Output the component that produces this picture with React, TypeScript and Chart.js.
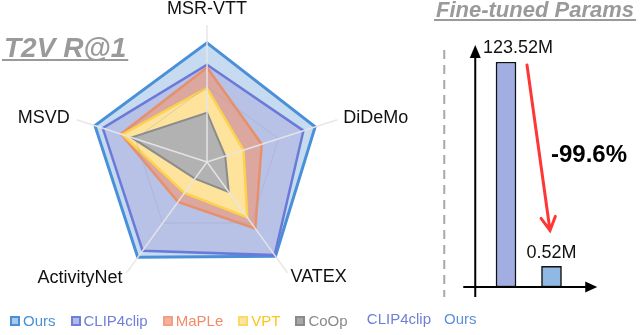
import React, { useEffect, useRef } from 'react';
import { Chart, registerables } from 'chart.js';

Chart.register(...registerables);

const FONT = '"Liberation Sans", Arial, Helvetica, sans-serif';

// ---- Radar: T2V R@1 (normalised per benchmark, 0-100) ----
const axisLabels = ['MSR-VTT', 'DiDeMo', 'VATEX', 'ActivityNet', 'MSVD'];
const seriesNames = ['Ours', 'CLIP4clip', 'MaPLe', 'VPT', 'CoOp'];
const oursValues = [87, 83, 85, 86, 86];
const clip4clipValues = [71, 74, 84, 80, 80];
const mapleValues = [69, 42, 60, 36, 66];
const vptValues = [54, 28, 50, 28, 65];
const coopValues = [36, 14, 27, 15, 58];
const radarMax = 100;
const radarGridValue = 55;

// ---- Bars: fine-tuned parameters (millions) ----
const paramCategories = ['CLIP4clip', 'Ours'];
const paramValues = [123.52, 0.52];
const paramUnit = 'M';
const paramAxisMin = 0.323;

// ---- styles ----
const seriesValues = [oursValues, clip4clipValues, mapleValues, vptValues, coopValues];
const lineColors = ['#4a90d9', '#6a7ad8', '#e8906c', '#fdd24e', '#8c8c8c'];
const fillColors = ['#c6dbf0', '#b8c1e6', '#dba79e', '#fde39b', '#b2b2b2'];
const lineWidths = [3, 2.5, 2.5, 2.5, 2];
const legendTextColors = ['#4a8fd6', '#6f7fd8', '#f28b6c', '#fcc41c', '#8a8a8a'];
const legendBoxFills = ['#a9c9ec', '#b1b9e7', '#f5b19e', '#fde69e', '#a8a8a8'];
const legendBoxBorders = ['#4a90d9', '#7080d8', '#f29f86', '#fcd866', '#8a8a8a'];
const barFills = ['#a2aee1', '#8fb8e3'];
const categoryColors = ['#6f7fd8', '#5b8fd6'];

const labelPlacement = [
  { dx: 0, dy: -16, align: 'center' },
  { dx: 6, dy: -2, align: 'left' },
  { dx: 3, dy: 4, align: 'left' },
  { dx: -4, dy: 5, align: 'right' },
  { dx: -7, dy: -2, align: 'right' },
];

function underlinedTitle(ctx: CanvasRenderingContext2D, text: string, x: number, y: number, size: number, align: CanvasTextAlign) {
  ctx.save();
  ctx.font = `italic bold ${size}px ${FONT}`;
  ctx.fillStyle = '#9a9a9a';
  ctx.textAlign = align;
  ctx.textBaseline = 'alphabetic';
  ctx.fillText(text, x, y);
  const w = ctx.measureText(text).width;
  const x0 = align === 'right' ? x - w - 2 : x - 2;
  ctx.fillRect(x0, y + 2, w + 4, 2);
  ctx.restore();
}

const radarDecor = {
  id: 'radarDecor',
  afterDraw(chart: any) {
    const ctx = chart.ctx as CanvasRenderingContext2D;
    const r = chart.scales.r;
    ctx.save();
    ctx.font = `18px ${FONT}`;
    ctx.fillStyle = '#111';
    ctx.textBaseline = 'middle';
    (chart.data.labels as string[]).forEach((lab, i) => {
      const p = r.getPointPosition(i, r.drawingArea);
      const o = labelPlacement[i];
      ctx.textAlign = o.align as CanvasTextAlign;
      ctx.fillText(lab, p.x + o.dx, p.y + o.dy);
    });
    ctx.restore();
    underlinedTitle(ctx, 'T2V R@1', 4, 57, 28, 'left');
  },
};

const barDecor = {
  id: 'barDecor',
  afterDraw(chart: any) {
    const ctx = chart.ctx as CanvasRenderingContext2D;
    const area = chart.chartArea;
    const meta = chart.getDatasetMeta(0);
    const b1 = meta.data[0];
    const b2 = meta.data[1];
    ctx.save();

    // dashed separator
    ctx.strokeStyle = '#a8a8a8';
    ctx.lineWidth = 2;
    ctx.setLineDash([9, 6]);
    ctx.beginPath();
    ctx.moveTo(area.left - 39, area.top - 12);
    ctx.lineTo(area.left - 39, area.bottom + 10);
    ctx.stroke();
    ctx.setLineDash([]);

    // axes with arrows
    const ax = area.left - 8;
    ctx.strokeStyle = '#000';
    ctx.fillStyle = '#000';
    ctx.lineWidth = 2;
    ctx.beginPath();
    ctx.moveTo(ax, area.bottom + 10);
    ctx.lineTo(ax, area.top - 5);
    ctx.moveTo(ax - 12, area.bottom);
    ctx.lineTo(area.right + 13, area.bottom);
    ctx.stroke();
    ctx.beginPath();
    ctx.moveTo(ax, area.top - 17);
    ctx.lineTo(ax - 5.5, area.top - 4);
    ctx.lineTo(ax + 5.5, area.top - 4);
    ctx.closePath();
    ctx.fill();
    ctx.beginPath();
    ctx.moveTo(area.right + 23, area.bottom);
    ctx.lineTo(area.right + 11, area.bottom - 5.5);
    ctx.lineTo(area.right + 11, area.bottom + 5.5);
    ctx.closePath();
    ctx.fill();

    // value labels
    ctx.font = `18px ${FONT}`;
    ctx.fillStyle = '#111';
    ctx.textAlign = 'center';
    ctx.textBaseline = 'middle';
    ctx.fillText(paramValues[0].toFixed(2) + paramUnit, b1.x + 12, b1.y - 14);
    ctx.fillText(paramValues[1].toFixed(2) + paramUnit, b2.x, b2.y - 13);

    // red reduction arrow
    const sx = b1.x + 21, sy = b1.y + 3;
    const ex = b2.x - 1.5, ey = b2.y - 36;
    ctx.strokeStyle = '#ff3636';
    ctx.lineWidth = 3;
    ctx.lineCap = 'round';
    ctx.beginPath();
    ctx.moveTo(sx, sy);
    ctx.lineTo(ex, ey);
    const ang = Math.atan2(ey - sy, ex - sx);
    const hl = 15, ha = 0.5;
    ctx.moveTo(ex - hl * Math.cos(ang - ha), ey - hl * Math.sin(ang - ha));
    ctx.lineTo(ex, ey);
    ctx.lineTo(ex - hl * Math.cos(ang + ha), ey - hl * Math.sin(ang + ha));
    ctx.stroke();

    // percentage
    const pct = ((paramValues[1] - paramValues[0]) / paramValues[0]) * 100;
    ctx.font = `bold 24px ${FONT}`;
    ctx.fillStyle = '#000';
    ctx.textAlign = 'center';
    ctx.fillText(pct.toFixed(1) + '%', b2.x + 37.5, b1.y + 93);
    ctx.restore();

    underlinedTitle(ctx, 'Fine-tuned Params', chart.width - 6, 17, 22, 'right');
  },
};

export default function App() {
  const radarRef = useRef<HTMLCanvasElement>(null);
  const barRef = useRef<HTMLCanvasElement>(null);

  useEffect(() => {
    const radar = new Chart(radarRef.current as HTMLCanvasElement, {
      type: 'radar',
      data: {
        labels: axisLabels,
        datasets: seriesNames.map((name, i) => ({
          label: name,
          data: seriesValues[i],
          borderColor: lineColors[i],
          backgroundColor: fillColors[i],
          borderWidth: lineWidths[i],
          pointRadius: 0,
          fill: true,
          order: seriesNames.length - 1 - i,
        })),
      },
      options: {
        responsive: false,
        animation: false,
        layout: { padding: { left: 70, top: 25, right: 76, bottom: 36 } },
        plugins: { legend: { display: false }, tooltip: { enabled: false } },
        scales: {
          r: {
            min: 0,
            max: radarMax,
            ticks: { display: false, stepSize: radarGridValue },
            pointLabels: { display: false },
            grid: {
              z: 1,
              lineWidth: 1,
              color: (c: any) => (c.tick && c.tick.value === radarGridValue ? 'rgba(160,160,185,0.35)' : 'rgba(0,0,0,0)'),
            },
            angleLines: { color: 'rgba(230,230,232,0.95)', lineWidth: 1.5 },
          },
        },
      } as any,
      plugins: [radarDecor],
    });

    const bar = new Chart(barRef.current as HTMLCanvasElement, {
      type: 'bar',
      data: {
        labels: paramCategories,
        datasets: [
          {
            data: paramValues,
            backgroundColor: barFills,
            borderColor: '#111',
            borderWidth: 1.5,
            borderSkipped: false,
            barThickness: 20,
          },
        ],
      },
      options: {
        responsive: false,
        animation: false,
        layout: { padding: { left: 153.25, right: 65.75, top: 62, bottom: 6 } },
        plugins: { legend: { display: false }, tooltip: { enabled: false } },
        scales: {
          x: {
            grid: { display: false, drawTicks: true, tickLength: 24 },
            border: { display: false },
            ticks: {
              autoSkip: false,
              maxRotation: 0,
              minRotation: 0,
              align: 'end',
              labelOffset: -75,
              padding: 0,
              font: { family: FONT, size: 15 },
              color: (c: any) => categoryColors[c.index],
            },
          },
          y: {
            type: 'logarithmic',
            display: false,
            min: paramAxisMin,
            max: paramValues[0],
          },
        },
      } as any,
      plugins: [barDecor],
    });

    return () => {
      radar.destroy();
      bar.destroy();
    };
  }, []);

  return (
    <div
      style={{
        position: 'fixed',
        left: 0,
        top: 0,
        width: 640,
        height: 335,
        overflow: 'hidden',
        background: '#fff',
      }}
    >
      <canvas
        ref={radarRef}
        width={420}
        height={335}
        style={{ position: 'absolute', left: 0, top: 0, width: 420, height: 335 }}
      />
      <canvas
        ref={barRef}
        width={310}
        height={335}
        style={{ position: 'absolute', left: 330, top: 0, width: 310, height: 335 }}
      />
      <div
        style={{
          position: 'absolute',
          left: 10,
          top: 312,
          display: 'flex',
          alignItems: 'center',
          fontFamily: FONT,
          fontSize: 15,
          lineHeight: '18px',
          whiteSpace: 'nowrap',
        }}
      >
        {seriesNames.map((n, i) => (
          <div key={n} style={{ display: 'flex', alignItems: 'center', marginRight: 15 }}>
            <span
              style={{
                display: 'inline-block',
                width: 10,
                height: 10,
                boxSizing: 'border-box',
                border: `2px solid ${legendBoxBorders[i]}`,
                background: legendBoxFills[i],
                marginRight: 3,
              }}
            />
            <span style={{ color: legendTextColors[i] }}>{n}</span>
          </div>
        ))}
      </div>
    </div>
  );
}
